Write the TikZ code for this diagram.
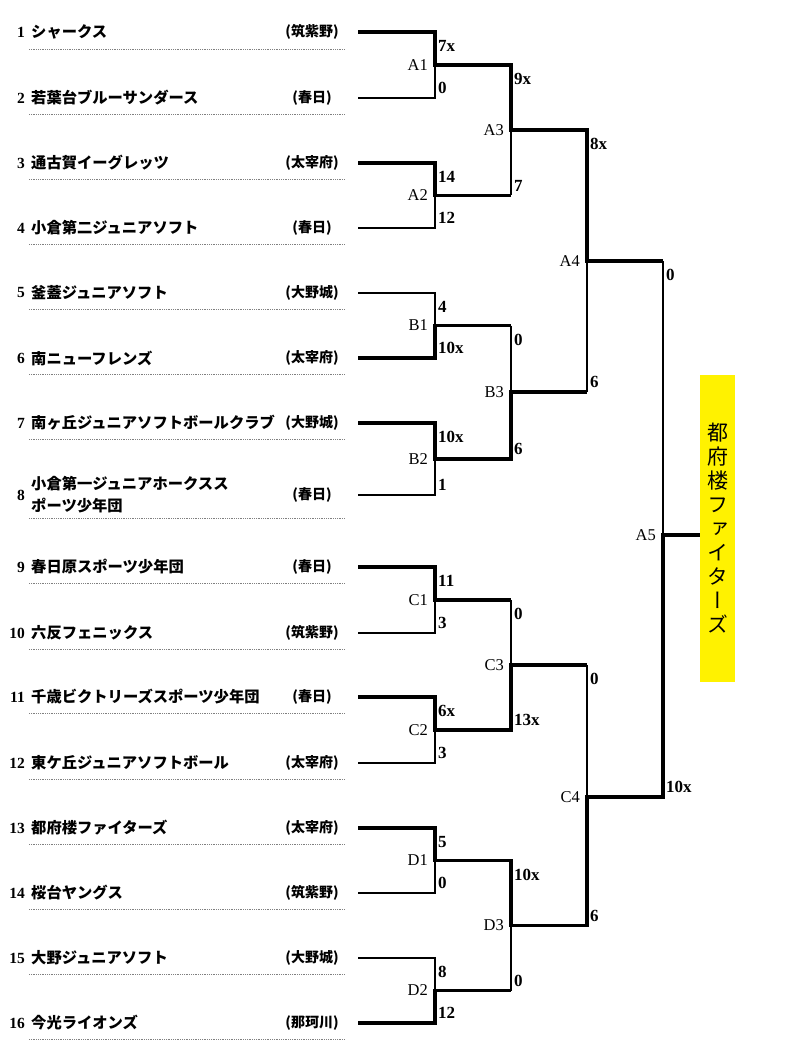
\documentclass[tikz,border=0pt]{standalone}
\usepackage{fontspec}
\setmainfont{Liberation Serif}
\newfontfamily\jp{Noto Sans CJK JP}
\newfontfamily\jpv{Noto Sans CJK JP}[RawFeature=+vert]
\begin{document}
\begin{tikzpicture}[x=1pt,y=-1pt,
  win/.style={line width=3.2pt, line join=miter},
  lose/.style={line width=1.1pt},
  uline/.style={gray, line width=0.7pt, dash pattern=on 0.8pt off 1pt},
  num/.style={anchor=east, inner sep=0, font=\fontsize{15.5}{18}\selectfont\bfseries},
  tname/.style={anchor=west, inner sep=0, font=\jp\fontsize{15.3}{22}\selectfont\bfseries, align=left},
  region/.style={inner sep=0, font=\jp\fontsize{14}{16}\selectfont\bfseries},
  mlabel/.style={anchor=east, inner sep=0, font=\fontsize{16.5}{18}\selectfont},
  score/.style={anchor=west, inner sep=0, font=\fontsize{17}{18}\selectfont\bfseries},
  titlebox/.style={fill=yellow, inner sep=0, minimum width=35pt, minimum height=307pt, align=center, font=\jpv\fontsize{21}{24}\selectfont}
]
\useasboundingbox (0,0) rectangle (800,1064);
\fill[white] (0,0) rectangle (800,1064);

% teams
\foreach \i/\ty/\uy/\tn/\rg in {
  1/32/49/シャークス/筑紫野,
  2/98/114/若葉台ブルーサンダース/春日,
  3/163/179/通古賀イーグレッツ/太宰府,
  4/228/244/小倉第二ジュニアソフト/春日,
  5/293/309/釜蓋ジュニアソフト/大野城,
  6/358/374/南ニューフレンズ/太宰府,
  7/423/439/南ヶ丘ジュニアソフトボールクラブ/大野城,
  8/495/518/{小倉第一ジュニアホークスス\\ポーツ少年団}/春日,
  9/567/583/春日原スポーツ少年団/春日,
  10/633/649/六反フェニックス/筑紫野,
  11/697/713/千歳ビクトリーズスポーツ少年団/春日,
  12/763/779/東ケ丘ジュニアソフトボール/太宰府,
  13/828/844/都府楼ファイターズ/太宰府,
  14/893/909/桜台ヤングス/筑紫野,
  15/958/974/大野ジュニアソフト/大野城,
  16/1023/1039/今光ライオンズ/那珂川}{
  \coordinate (s\i) at (358,\ty);
  \node[num] (no\i) at (25,\ty) {\i};
  \node[tname] (tn\i) at (31,\ty) {\tn};
  \node[region] (rg\i) at (312,\ty) {(\rg)};
  \coordinate (ua\i) at (29,\uy);
  \coordinate (ub\i) at (345,\uy);
  \draw[uline] (ua\i) -- (ub\i);
}

% matches: name / x of vertical / top y / bottom y / mid y / top score / bottom score
\foreach \mn/\mx/\ya/\yb/\ym/\scA/\scB in {
  A1/435/32/98/65/7x/0,
  A2/435/163/228/195.5/14/12,
  B1/435/293/358/325.5/4/10x,
  B2/435/423/495/459/10x/1,
  C1/435/567/633/600/11/3,
  C2/435/697/763/730/6x/3,
  D1/435/828/893/860.5/5/0,
  D2/435/958/1023/990.5/8/12,
  A3/511/65/195.5/130/9x/7,
  B3/511/325.5/459/392/0/6,
  C3/511/600/730/665/0/13x,
  D3/511/860.5/990.5/925.5/10x/0,
  A4/587/130/392/261/8x/6,
  C4/587/665/925.5/797/0/6,
  A5/663/261/797/535/0/10x}{
  \coordinate (\mn-t) at (\mx,\ya);
  \coordinate (\mn-b) at (\mx,\yb);
  \coordinate (\mn-m) at (\mx,\ym);
  \node[mlabel] (\mn) at (\mx-7,\ym) {\mn};
  \node[score] (\mn-st) at (\mx+3,\ya+14) {\scA};
  \node[score] (\mn-sb) at (\mx+3,\yb-10) {\scB};
}

% title box
\node[titlebox] (box) at (717.5,528.5) {都\\府\\楼\\フ\\ァ\\イ\\タ\\ー\\ズ};

% losing lines
\draw[lose] (s2) -- (A1-b) -- (A1-m);
\draw[lose] (s4) -- (A2-b) -- (A2-m);
\draw[lose] (s5) -- (B1-t) -- (B1-m);
\draw[lose] (s8) -- (B2-b) -- (B2-m);
\draw[lose] (s10) -- (C1-b) -- (C1-m);
\draw[lose] (s12) -- (C2-b) -- (C2-m);
\draw[lose] (s14) -- (D1-b) -- (D1-m);
\draw[lose] (s15) -- (D2-t) -- (D2-m);
\draw[lose] (A3-b) -- (A3-m);
\draw[lose] (B3-t) -- (B3-m);
\draw[lose] (C3-t) -- (C3-m);
\draw[lose] (D3-b) -- (D3-m);
\draw[lose] (A4-b) -- (A4-m);
\draw[lose] (C4-t) -- (C4-m);
\draw[lose] (A5-t) -- (A5-m);

% winning paths
\draw[win] (s1) -- (A1-t) -- (A1-m) -- (A3-t) -- (A3-m) -- (A4-t) -- (A4-m) -- (A5-t);
\draw[win] (s3) -- (A2-t) -- (A2-m) -- (A3-b);
\draw[win] (s6) -- (B1-b) -- (B1-m) -- (B3-t);
\draw[win] (s7) -- (B2-t) -- (B2-m) -- (B3-b) -- (B3-m) -- (A4-b);
\draw[win] (s9) -- (C1-t) -- (C1-m) -- (C3-t);
\draw[win] (s11) -- (C2-t) -- (C2-m) -- (C3-b) -- (C3-m) -- (C4-t);
\draw[win] (s13) -- (D1-t) -- (D1-m) -- (D3-t) -- (D3-m) -- (C4-b) -- (C4-m) -- (A5-b) -- (A5-m) -- (A5-m -| box.west);
\draw[win] (s16) -- (D2-b) -- (D2-m) -- (D3-b);
\end{tikzpicture}
\end{document}
